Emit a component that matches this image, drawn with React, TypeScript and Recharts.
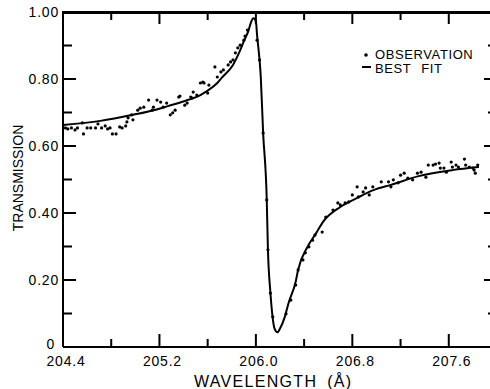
import { ComposedChart, Line, Scatter, XAxis, YAxis, Legend, Label } from "recharts";

// best-fit curve
const FIT_WAVELENGTH = [
  204.4, 204.71, 204.98, 205.17, 205.27, 205.44, 205.54, 205.58, 205.68, 205.72,
  205.81, 205.86, 205.9, 205.94, 205.96, 205.98, 206.0, 206.01, 206.04, 206.06,
  206.09, 206.1, 206.12, 206.14, 206.155, 206.18, 206.2, 206.24, 206.27, 206.33,
  206.35, 206.43, 206.5, 206.56, 206.7, 206.84, 206.98, 207.12, 207.35, 207.63, 207.85,
];
const FIT_TRANSMISSION = [
  0.663, 0.675, 0.693, 0.708, 0.719, 0.738, 0.752, 0.761, 0.788, 0.805,
  0.842, 0.878, 0.912, 0.946, 0.97, 0.981, 0.972, 0.93, 0.81, 0.64,
  0.44, 0.29, 0.165, 0.085, 0.055, 0.044, 0.055, 0.09, 0.13, 0.195,
  0.23, 0.3, 0.34, 0.375, 0.418, 0.445, 0.469, 0.484, 0.51, 0.528, 0.537,
];

// measured points
const OBS_WAVELENGTH = [
  204.42, 204.44, 204.47, 204.5, 204.52, 204.56, 204.57, 204.6, 204.63, 204.67,
  204.69, 204.72, 204.75, 204.77, 204.79, 204.81, 204.84, 204.87, 204.89, 204.92,
  204.93, 204.94, 204.97, 204.98, 205.02, 205.04, 205.07, 205.11, 205.14, 205.15,
  205.18, 205.21, 205.23, 205.26, 205.29, 205.31, 205.33, 205.36, 205.37, 205.41,
  205.43, 205.46, 205.47, 205.48, 205.51, 205.54, 205.56, 205.57, 205.6, 205.61,
  205.66, 205.68, 205.71, 205.73, 205.77, 205.79, 205.81, 205.83, 205.85, 205.87,
  205.9, 205.91, 205.93, 206.01, 206.03, 206.06, 206.09, 206.1, 206.12, 206.14,
  206.25, 206.29, 206.33, 206.35, 206.39, 206.41, 206.44, 206.47, 206.49, 206.55,
  206.58, 206.64, 206.68, 206.7, 206.74, 206.77, 206.8, 206.84, 206.85, 206.89,
  206.91, 206.94, 206.97, 207.04, 207.1, 207.12, 207.14, 207.18, 207.2, 207.23,
  207.26, 207.3, 207.34, 207.37, 207.41, 207.43, 207.47, 207.49, 207.52, 207.53,
  207.56, 207.58, 207.62, 207.63, 207.66, 207.68, 207.73, 207.74, 207.77, 207.8,
  207.81, 207.82, 207.84,
];
const OBS_TRANSMISSION = [
  0.654, 0.651, 0.654, 0.648, 0.654, 0.669, 0.636, 0.654, 0.654, 0.654,
  0.666, 0.654, 0.66, 0.651, 0.654, 0.636, 0.636, 0.657, 0.654, 0.66,
  0.672, 0.684, 0.693, 0.678, 0.707, 0.713, 0.716, 0.737, 0.707, 0.716,
  0.737, 0.731, 0.716, 0.728, 0.693, 0.699, 0.707, 0.746, 0.749, 0.722,
  0.728, 0.746, 0.743, 0.761, 0.752, 0.788, 0.791, 0.788, 0.758, 0.782,
  0.836, 0.806, 0.821, 0.827, 0.842, 0.851, 0.857, 0.878, 0.893, 0.901,
  0.916, 0.928, 0.946, 0.916, 0.857, 0.639, 0.439, 0.29, 0.161, 0.09,
  0.099, 0.14, 0.185, 0.23, 0.26, 0.281, 0.299, 0.319, 0.334, 0.343,
  0.388, 0.409, 0.43, 0.424, 0.43, 0.433, 0.454, 0.478, 0.448, 0.463,
  0.475, 0.454, 0.478, 0.493, 0.493, 0.478, 0.499, 0.49, 0.513, 0.519,
  0.504, 0.499, 0.519, 0.522, 0.507, 0.543, 0.543, 0.546, 0.549, 0.534,
  0.534, 0.522, 0.552, 0.537, 0.543, 0.537, 0.561, 0.543, 0.537, 0.534,
  0.528, 0.519, 0.543,
];

const X_TICKS = [204.4, 204.8, 205.2, 205.6, 206.0, 206.4, 206.8, 207.2, 207.6, 208.0];
const X_LABELS = ["204.4", "", "205.2", "", "206.0", "", "206.8", "", "207.6", ""];
const Y_TICKS = [0, 0.1, 0.2, 0.3, 0.4, 0.5, 0.6, 0.7, 0.8, 0.9, 1.0];
const Y_LABELS = ["0", "", "0.20", "", "0.40", "", "0.60", "", "0.80", "", "1.00"];

const X_MIN = 204.4;
const X_MAX = 208.0;
const INK = "#000000";
const FONT = "'Liberation Sans', Arial, sans-serif";

// chart geometry (plot box = margin + axis sizes)
const CHART_W = 510;
const CHART_H = 389;
const MARGIN = { top: 12, right: 13, bottom: 12, left: 13 };
const Y_AXIS_W = 50;
const X_AXIS_H = 30;
const PLOT_L = MARGIN.left + Y_AXIS_W;
const PLOT_T = MARGIN.top;
const PLOT_R = CHART_W - MARGIN.right;
const PLOT_B = CHART_H - MARGIN.bottom - X_AXIS_H;
const px = (w: number) => PLOT_L + ((w - X_MIN) / (X_MAX - X_MIN)) * (PLOT_R - PLOT_L);
const py = (t: number) => PLOT_B - t * (PLOT_B - PLOT_T);

const fitData = FIT_WAVELENGTH.map((w, i) => ({ w, t: FIT_TRANSMISSION[i] }));
const obsData = OBS_WAVELENGTH.map((w, i) => ({ w, t: OBS_TRANSMISSION[i] }));

function labelFor(ticks: number[], labels: string[], value: number) {
  const i = ticks.findIndex((t) => Math.abs(t - value) < 1e-6);
  return i >= 0 ? labels[i] : "";
}

function renderBottomTick(props: any) {
  const { x, y, payload } = props;
  const label = labelFor(X_TICKS, X_LABELS, payload.value);
  if (!label) return <g />;
  return (
    <text x={Number(x) + 3} y={Number(y) + 19} textAnchor="middle" fontSize={14} letterSpacing={0.8} fill={INK} fontFamily={FONT}>
      {label}
    </text>
  );
}

function renderLeftTick(props: any) {
  const { x, y, payload } = props;
  const label = labelFor(Y_TICKS, Y_LABELS, payload.value);
  if (!label) return <g />;
  const isZero = payload.value === 0;
  return (
    <text
      x={Number(x) - (isZero ? 8 : 4)}
      y={Number(y) + (isZero ? 2 : 5)}
      textAnchor="end"
      fontSize={14}
      letterSpacing={0.8}
      fill={INK}
      fontFamily={FONT}
    >
      {label}
    </text>
  );
}

// frame on top/right plus inward tick marks on all four sides, as filled rects
// (same sizes as the red test run that showed up; only the colour differs)
function Frame() {
  const marks: any[] = [];
  X_TICKS.forEach((t, i) => {
    const len = X_LABELS[i] !== "" ? 13 : 8;
    const x = px(t);
    marks.push(<rect key={`b${i}`} x={x - 1} y={PLOT_B - len} width={2} height={len} />);
    marks.push(<rect key={`t${i}`} x={x - 1} y={PLOT_T} width={2} height={len === 13 ? 12 : 8} />);
  });
  Y_TICKS.forEach((v, i) => {
    const len = Y_LABELS[i] !== "" ? 13 : 9;
    const y = py(v);
    marks.push(<rect key={`l${i}`} x={PLOT_L} y={y - 1} width={len} height={2} />);
    marks.push(<rect key={`r${i}`} x={PLOT_R - len} y={y - 1} width={len} height={2} />);
  });
  return (
    <svg width={490} height={389} style={{ position: "absolute", left: 0, top: 0, pointerEvents: "none", zIndex: 5 }}>
      <g fill={INK}>
        {marks}
        <rect x={PLOT_L - 1} y={PLOT_T - 1} width={PLOT_R - PLOT_L + 2} height={3} />
        <rect x={PLOT_R - 1} y={PLOT_T - 1} width={3} height={PLOT_B - PLOT_T + 2} />
      </g>
    </svg>
  );
}

const Dot = (props: any) => <circle cx={props.cx} cy={props.cy} r={1.6} fill={INK} />;

const renderLegend = () => (
  <svg width={130} height={36} style={{ display: "block" }}>
    <circle cx={4} cy={10} r={1.8} fill={INK} />
    <text x={13} y={14} fontSize={13} letterSpacing={0.6} fill={INK} fontFamily={FONT}>
      OBSERVATION
    </text>
    <line x1={0} y1={22} x2={9} y2={22} stroke={INK} strokeWidth={2} />
    <text x={13} y={28} fontSize={13} letterSpacing={0.6} wordSpacing={6} fill={INK} fontFamily={FONT}>
      BEST FIT
    </text>
  </svg>
);

const XTitle = (props: any) => {
  const { viewBox } = props;
  return (
    <text x={viewBox.x + 131} y={viewBox.y + 40} fontSize={16} letterSpacing={1.3} fill={INK} fontFamily={FONT}>
      <tspan>WAVELENGTH</tspan>
      <tspan dx={10}>(Å)</tspan>
    </text>
  );
};

const YTitle = (props: any) => {
  const { viewBox } = props;
  const cx = viewBox.x + 10;
  const cy = viewBox.y + 166;
  return (
    <text
      x={cx}
      y={cy}
      transform={`rotate(-90, ${cx}, ${cy})`}
      textAnchor="middle"
      fontSize={14}
      fill={INK}
      fontFamily={FONT}
    >
      TRANSMISSION
    </text>
  );
};

export default function App() {
  return (
    <div style={{ position: "fixed", left: 0, top: 0, width: 490, height: 389, overflow: "hidden", background: "#fff" }}>
      <ComposedChart width={CHART_W} height={CHART_H} margin={MARGIN}>
        <XAxis
          xAxisId="bottom"
          dataKey="w"
          type="number"
          domain={[X_MIN, X_MAX]}
          allowDataOverflow
          ticks={X_TICKS}
          interval={0}
          height={X_AXIS_H}
          tickSize={0}
          tickMargin={0}
          tickLine={false}
          tick={renderBottomTick}
          axisLine={{ stroke: INK, strokeWidth: 2 }}
        >
          <Label content={<XTitle />} />
        </XAxis>
        <YAxis
          yAxisId="left"
          dataKey="t"
          type="number"
          domain={[0, 1]}
          allowDataOverflow
          ticks={Y_TICKS}
          interval={0}
          width={Y_AXIS_W}
          tickSize={0}
          tickMargin={0}
          tickLine={false}
          tick={renderLeftTick}
          axisLine={{ stroke: INK, strokeWidth: 2 }}
        >
          <Label content={<YTitle />} />
        </YAxis>
        <Line
          xAxisId="bottom"
          yAxisId="left"
          data={fitData}
          dataKey="t"
          type="monotone"
          stroke={INK}
          strokeWidth={2}
          dot={false}
          isAnimationActive={false}
        />
        <Scatter
          xAxisId="bottom"
          yAxisId="left"
          data={obsData}
          dataKey="t"
          shape={<Dot />}
          isAnimationActive={false}
        />
        <Legend
          layout="vertical"
          align="center"
          verticalAlign="middle"
          content={renderLegend}
          wrapperStyle={{ left: 362, top: 45, width: 130, height: 36 }}
        />
      </ComposedChart>
      <Frame />
    </div>
  );
}
